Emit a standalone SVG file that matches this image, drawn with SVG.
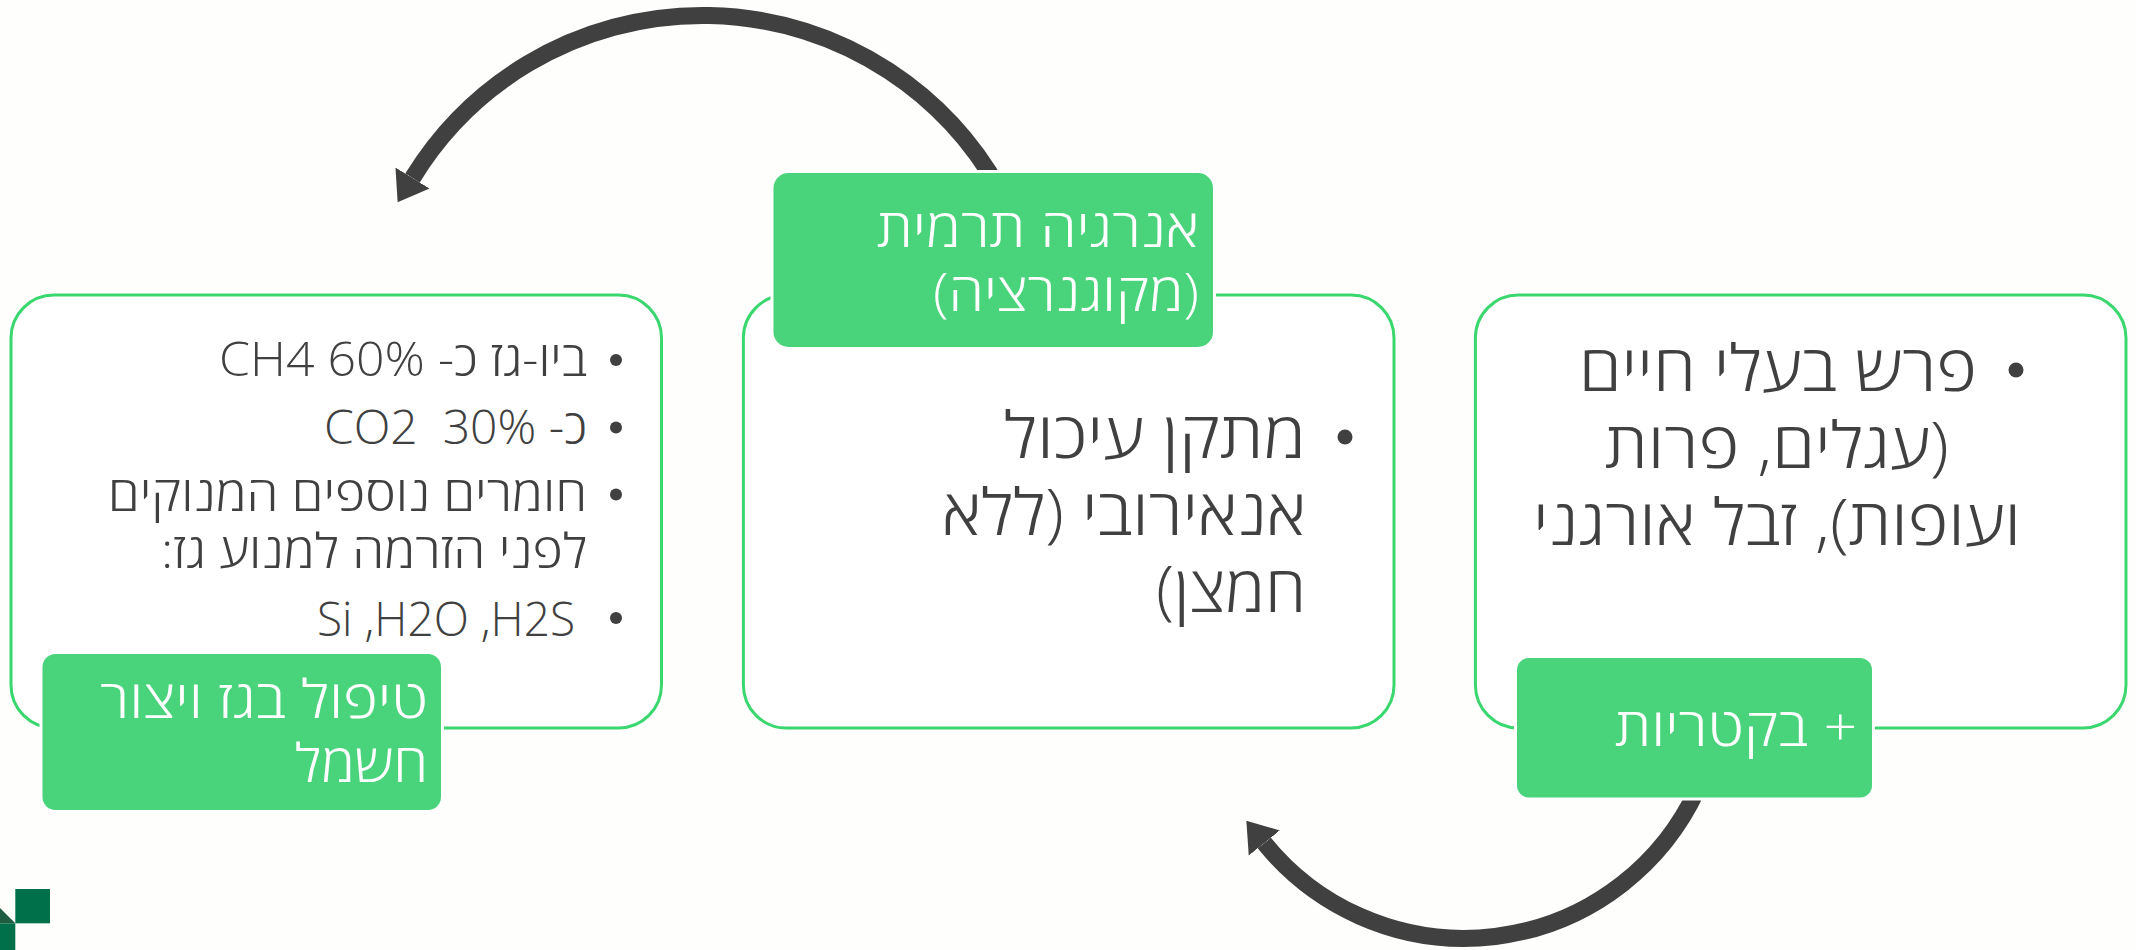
<svg xmlns="http://www.w3.org/2000/svg" width="2136" height="950" viewBox="0 0 2136 950">
<style>
.box{fill:#fff;stroke:#3ad66e;stroke-width:3}
.tag{fill:#49d37a;stroke:#fff;stroke-width:6;paint-order:stroke}
text{font-family:"Open Sans","Liberation Sans","DejaVu Sans",sans-serif;font-weight:300;direction:rtl;white-space:pre}
.s{font-size:48px;fill:#404040}
.m{font-size:64px;fill:#404040}
.c{font-size:64px;fill:#404040;text-anchor:middle}
.w{font-size:53px;fill:#fff}
.b{fill:#404040}
.arc{fill:none;stroke:#404040;stroke-width:17;marker-end:url(#head)}
.g{fill:#00704a}
</style>
<defs>
<marker id="head" markerUnits="userSpaceOnUse" markerWidth="30" markerHeight="42" viewBox="0 0 30 42" refX="0" refY="20.5" orient="auto"><path d="M0 0.5L28.5 20.5L0 40.5z" fill="#404040"/></marker>
</defs>
<rect width="2136" height="950" fill="#fefefd"/>
<g id="logo">
<rect class="g" x="15.3" y="889" width="34.7" height="34.3"/>
<rect class="g" x="0" y="923.3" width="15.3" height="26.7"/>
<path d="M0 908L15.3 923.3H0z" fill="#1f5c40"/>
</g>
<g id="connectors">
<path class="arc" d="M999.6 190A340 340 0 0 0 412.5 178"/>
<path class="arc" d="M1697 790A257 257 0 0 1 1264.3 843"/>
</g>
<g id="node-left">
<rect class="box" x="11" y="295" width="650.5" height="433" rx="43"/>
<circle class="b" cx="616" cy="360" r="6"/>
<text class="s" x="587" y="376" textLength="368" lengthAdjust="spacingAndGlyphs">ביו-גז כ- 60% CH4</text>
<circle class="b" cx="616" cy="427.4" r="6"/>
<text class="s" x="587" y="443.5">כ- 30%  CO2</text>
<circle class="b" cx="616" cy="494.6" r="6"/>
<text class="s" x="587" y="510.7" textLength="479" lengthAdjust="spacingAndGlyphs">חומרים נוספים המנוקים</text>
<text class="s" x="587" y="568" textLength="426" lengthAdjust="spacingAndGlyphs">לפני הזרמה למנוע גז:</text>
<circle class="b" cx="616" cy="618" r="6"/>
<text class="s" x="575" y="635.6" textLength="258" lengthAdjust="spacingAndGlyphs">Si ,H2O ,H2S</text>
</g>
<g id="tag-left">
<rect class="tag" x="42.5" y="654" width="398.5" height="156" rx="13"/>
<text class="w" x="428" y="718" textLength="328" lengthAdjust="spacingAndGlyphs">טיפול בגז ויצור</text>
<text class="w" x="428" y="781.7" textLength="133" lengthAdjust="spacingAndGlyphs">חשמל</text>
</g>
<g id="node-middle">
<rect class="box" x="743.4" y="295" width="650.6" height="433" rx="43"/>
<circle class="b" cx="1345" cy="437" r="7.5"/>
<text class="m" x="1306" y="458" textLength="302" lengthAdjust="spacingAndGlyphs">מתקן עיכול</text>
<text class="m" x="1306" y="535" textLength="364" lengthAdjust="spacingAndGlyphs">אנאירובי (ללא</text>
<text class="m" x="1306" y="612" textLength="150" lengthAdjust="spacingAndGlyphs">חמצן)</text>
</g>
<g id="tag-middle">
<rect class="tag" x="773.5" y="173" width="439.5" height="174" rx="15"/>
<text class="w" x="1199" y="247" textLength="322" lengthAdjust="spacingAndGlyphs">אנרגיה תרמית</text>
<text class="w" x="1199" y="311" textLength="266" lengthAdjust="spacingAndGlyphs">(מקוגנרציה)</text>
</g>
<g id="node-right">
<rect class="box" x="1475.4" y="295" width="650.6" height="433" rx="43"/>
<circle class="b" cx="2016" cy="370" r="7.5"/>
<text class="c" x="1778" y="391.4" textLength="398" lengthAdjust="spacingAndGlyphs">פרש בעלי חיים</text>
<text class="c" x="1777" y="468" textLength="344" lengthAdjust="spacingAndGlyphs">(עגלים, פרות</text>
<text class="c" x="1777" y="545" textLength="488" lengthAdjust="spacingAndGlyphs">ועופות), זבל אורגני</text>
</g>
<g id="tag-right">
<rect class="tag" x="1517" y="658" width="355" height="139.5" rx="12"/>
<text class="w" x="1857" y="746" textLength="242" lengthAdjust="spacingAndGlyphs">+ בקטריות</text>
</g>
</svg>
